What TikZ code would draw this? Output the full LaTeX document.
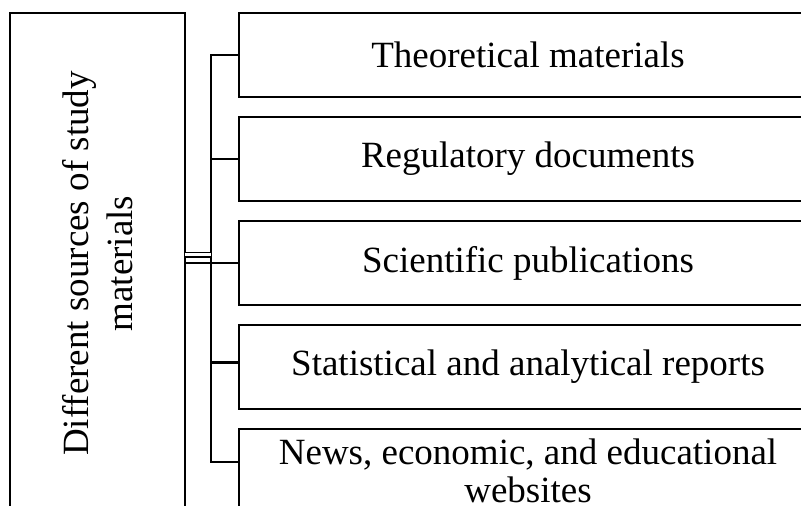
\documentclass[tikz,border=0pt]{standalone}
\usepackage{fontspec}
\setmainfont{Liberation Serif}
\usetikzlibrary{positioning,calc}

\begin{document}
\begin{tikzpicture}[x=0.5pt,y=-0.5pt,node distance=10pt,
   srcbox/.style={draw,line width=1.3pt,minimum width=289pt,minimum height=42pt,inner sep=0pt,outer sep=0pt,align=center,font=\fontsize{18.5}{19}\selectfont},
   srcmain/.style={draw,line width=1.3pt,rotate=90,minimum width=250.5pt,minimum height=87.5pt,inner sep=0pt,outer sep=0pt,align=center,font=\fontsize{18.5}{22}\selectfont},
   link/.style={line width=1.3pt}]
   \useasboundingbox (0,0) rectangle (801,506);
   \clip (0,0) rectangle (801,506);
   \node [srcmain] (S) at (97.5,263.5) {Different sources of study\\materials};
   \node [srcbox] (T_1) at (528,55) {Theoretical materials};
   \node [srcbox] (T_2) [below= of T_1] {Regulatory documents};
   \node [srcbox] (T_3) [below= of T_2] {Scientific publications};
   \node [srcbox] (T_4) [below= of T_3] {Statistical and analytical reports};
   \node [srcbox] (T_5) [below= of T_4] {News, economic, and educational\\websites};
   % bracket
   \draw [link] (T_1.west) -- ++(-28,0) |- ([yshift=4.5pt]T_5.west);
   \draw [link] (T_2.west) -- ++(-28,0);
   \draw [link] (S.south |- T_3.west) -- (T_3.west);
   \draw [link] ([yshift=2.25pt]T_4.west) -- ++(-28,0);
   \draw [double,line width=0.6pt,double distance=1.5pt] ($(S.south |- T_3.west)+(0,-8)$) -- ++(26,0);
\end{tikzpicture}
\end{document}
